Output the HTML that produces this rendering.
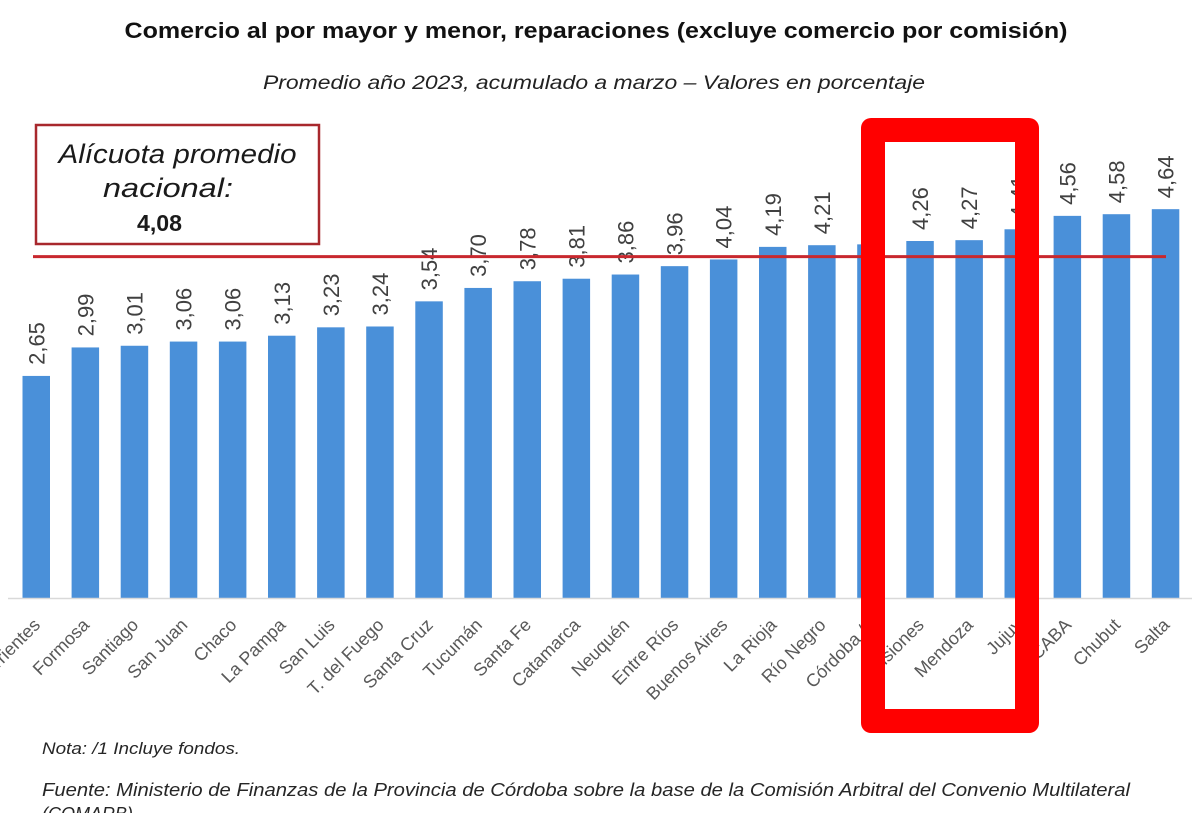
<!DOCTYPE html>
<html>
<head>
<meta charset="utf-8">
<style>
  html, body { margin:0; padding:0; background:#fff; }
  svg { display:block; }
  text { font-family: "Liberation Sans", "DejaVu Sans", sans-serif; }
</style>
</head>
<body>
<svg width="1200" height="813" viewBox="0 0 1200 813" xmlns="http://www.w3.org/2000/svg">
  <rect x="0" y="0" width="1200" height="813" fill="#ffffff"/>

  <!-- Titles -->
  <text x="596" y="38" text-anchor="middle" font-size="22" font-weight="bold" fill="#111" textLength="943" lengthAdjust="spacingAndGlyphs">Comercio al por mayor y menor, reparaciones (excluye comercio por comisión)</text>
  <text x="594" y="89" text-anchor="middle" font-size="19" font-style="italic" fill="#222" textLength="662" lengthAdjust="spacingAndGlyphs">Promedio año 2023, acumulado a marzo – Valores en porcentaje</text>

  <!-- Bars -->
  <g fill="#4a90d9">
    <rect x="22.5" y="375.93" width="27.5" height="222.07"/>
    <rect x="71.6" y="347.44" width="27.5" height="250.56"/>
    <rect x="120.7" y="345.76" width="27.5" height="252.24"/>
    <rect x="169.8" y="341.57" width="27.5" height="256.43"/>
    <rect x="218.9" y="341.57" width="27.5" height="256.43"/>
    <rect x="268.0" y="335.71" width="27.5" height="262.29"/>
    <rect x="317.1" y="327.33" width="27.5" height="270.67"/>
    <rect x="366.2" y="326.49" width="27.5" height="271.51"/>
    <rect x="415.3" y="301.35" width="27.5" height="296.65"/>
    <rect x="464.4" y="287.94" width="27.5" height="310.06"/>
    <rect x="513.5" y="281.24" width="27.5" height="316.76"/>
    <rect x="562.6" y="278.72" width="27.5" height="319.28"/>
    <rect x="611.7" y="274.53" width="27.5" height="323.47"/>
    <rect x="660.8" y="266.15" width="27.5" height="331.85"/>
    <rect x="709.9" y="259.45" width="27.5" height="338.55"/>
    <rect x="759.0" y="246.88" width="27.5" height="351.12"/>
    <rect x="808.1" y="245.20" width="27.5" height="352.80"/>
    <rect x="857.2" y="244.36" width="27.5" height="353.64"/>
    <rect x="906.3" y="241.01" width="27.5" height="356.99"/>
    <rect x="955.4" y="240.17" width="27.5" height="357.83"/>
    <rect x="1004.5" y="229.28" width="27.5" height="368.72"/>
    <rect x="1053.6" y="215.87" width="27.5" height="382.13"/>
    <rect x="1102.7" y="214.20" width="27.5" height="383.80"/>
    <rect x="1151.8" y="209.17" width="27.5" height="388.83"/>
  </g>

  <!-- Value labels -->
  <g font-size="22" fill="#404040">
    <text transform="translate(44.25,364.9) rotate(-90)">2,65</text>
    <text transform="translate(93.35,336.4) rotate(-90)">2,99</text>
    <text transform="translate(142.45,334.8) rotate(-90)">3,01</text>
    <text transform="translate(191.55,330.6) rotate(-90)">3,06</text>
    <text transform="translate(240.65,330.6) rotate(-90)">3,06</text>
    <text transform="translate(289.75,324.7) rotate(-90)">3,13</text>
    <text transform="translate(338.85,316.3) rotate(-90)">3,23</text>
    <text transform="translate(387.95,315.5) rotate(-90)">3,24</text>
    <text transform="translate(437.05,290.4) rotate(-90)">3,54</text>
    <text transform="translate(486.15,276.9) rotate(-90)">3,70</text>
    <text transform="translate(535.25,270.2) rotate(-90)">3,78</text>
    <text transform="translate(584.35,267.7) rotate(-90)">3,81</text>
    <text transform="translate(633.45,263.5) rotate(-90)">3,86</text>
    <text transform="translate(682.55,255.2) rotate(-90)">3,96</text>
    <text transform="translate(731.65,248.5) rotate(-90)">4,04</text>
    <text transform="translate(780.75,235.9) rotate(-90)">4,19</text>
    <text transform="translate(829.85,234.2) rotate(-90)">4,21</text>
    <text transform="translate(878.95,233.4) rotate(-90)">4,22</text>
    <text transform="translate(928.05,230.0) rotate(-90)">4,26</text>
    <text transform="translate(977.15,229.2) rotate(-90)">4,27</text>
    <text transform="translate(1026.25,218.3) rotate(-90)">4,41</text>
    <text transform="translate(1075.35,204.9) rotate(-90)">4,56</text>
    <text transform="translate(1124.45,203.2) rotate(-90)">4,58</text>
    <text transform="translate(1173.55,198.2) rotate(-90)">4,64</text>
  </g>

  <!-- Axis line -->
  <line x1="8" y1="598.5" x2="1192" y2="598.5" stroke="#d9d9d9" stroke-width="1.5"/>

  <!-- Category labels -->
  <g font-size="18" fill="#595959" text-anchor="end">
    <text transform="translate(41.25,626) rotate(-45)">Corrientes</text>
    <text transform="translate(90.35,626) rotate(-45)">Formosa</text>
    <text transform="translate(139.45,626) rotate(-45)">Santiago</text>
    <text transform="translate(188.55,626) rotate(-45)">San Juan</text>
    <text transform="translate(237.65,626) rotate(-45)">Chaco</text>
    <text transform="translate(286.75,626) rotate(-45)">La Pampa</text>
    <text transform="translate(335.85,626) rotate(-45)">San Luis</text>
    <text transform="translate(384.95,626) rotate(-45)">T. del Fuego</text>
    <text transform="translate(434.05,626) rotate(-45)">Santa Cruz</text>
    <text transform="translate(483.15,626) rotate(-45)">Tucumán</text>
    <text transform="translate(532.25,626) rotate(-45)">Santa Fe</text>
    <text transform="translate(581.35,626) rotate(-45)">Catamarca</text>
    <text transform="translate(630.45,626) rotate(-45)">Neuquén</text>
    <text transform="translate(679.55,626) rotate(-45)">Entre Ríos</text>
    <text transform="translate(728.65,626) rotate(-45)">Buenos Aires</text>
    <text transform="translate(777.75,626) rotate(-45)">La Rioja</text>
    <text transform="translate(826.85,626) rotate(-45)">Río Negro</text>
    <text transform="translate(875.95,626) rotate(-45)">Córdoba /1</text>
    <text transform="translate(925.05,626) rotate(-45)">Misiones</text>
    <text transform="translate(974.15,626) rotate(-45)">Mendoza</text>
    <text transform="translate(1023.25,626) rotate(-45)">Jujuy</text>
    <text transform="translate(1072.35,626) rotate(-45)">CABA</text>
    <text transform="translate(1121.45,626) rotate(-45)">Chubut</text>
    <text transform="translate(1170.55,626) rotate(-45)">Salta</text>
  </g>

  <!-- Average line -->
  <line x1="33" y1="256.6" x2="1166" y2="256.6" stroke="#c8282e" stroke-width="3"/>

  <!-- Average box -->
  <rect x="36" y="125" width="283" height="119" fill="#ffffff" stroke="#a8282d" stroke-width="2.5"/>
  <text x="177.5" y="163" text-anchor="middle" font-size="27" font-style="italic" fill="#1a1a1a" textLength="238" lengthAdjust="spacingAndGlyphs">Alícuota promedio</text>
  <text x="168" y="197" text-anchor="middle" font-size="27" font-style="italic" fill="#1a1a1a" textLength="130" lengthAdjust="spacingAndGlyphs">nacional:</text>
  <text x="159.5" y="231" text-anchor="middle" font-size="23" font-weight="bold" fill="#1a1a1a" textLength="45" lengthAdjust="spacingAndGlyphs">4,08</text>

  <!-- Red highlight rectangle -->
  <path fill="#ff0000" fill-rule="evenodd" d="M871,118 H1029 A10,10 0 0 1 1039,128 V723 A10,10 0 0 1 1029,733 H871 A10,10 0 0 1 861,723 V128 A10,10 0 0 1 871,118 Z M885,142 V709 H1015 V142 Z"/>

  <!-- Footnotes -->
  <text x="42" y="754" font-size="17" font-style="italic" fill="#262626" textLength="198" lengthAdjust="spacingAndGlyphs">Nota: /1 Incluye fondos.</text>
  <text x="42" y="796" font-size="18" font-style="italic" fill="#262626" textLength="1088" lengthAdjust="spacingAndGlyphs">Fuente: Ministerio de Finanzas de la Provincia de Córdoba sobre la base de la Comisión Arbitral del Convenio Multilateral</text>
  <text x="42" y="820" font-size="18" font-style="italic" fill="#262626">(COMARB).</text>
</svg>
</body>
</html>
